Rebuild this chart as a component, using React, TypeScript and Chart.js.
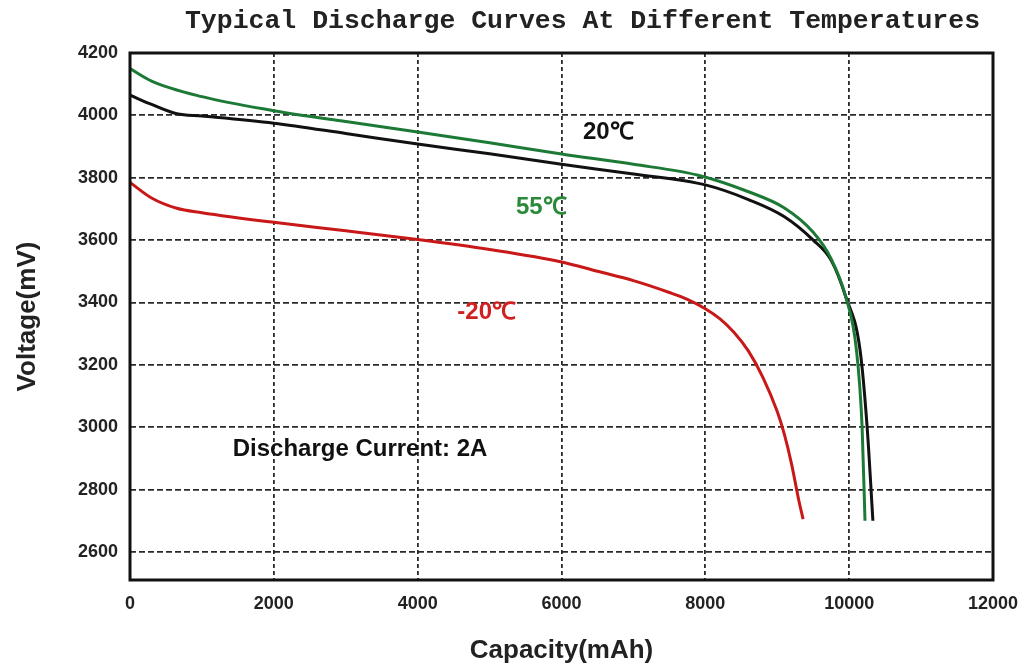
import React, { useEffect, useRef } from 'react';
import { Chart, registerables } from 'chart.js';

Chart.register(...registerables);

const TITLE = 'Typical Discharge Curves At Different Temperatures';
const X_TITLE = 'Capacity(mAh)';
const Y_TITLE = 'Voltage(mV)';

const X_TICKS = [0, 2000, 4000, 6000, 8000, 10000, 12000];
const Y_TICKS = [2600, 2800, 3000, 3200, 3400, 3600, 3800, 4000, 4200];

// 55℃ (green)
const CAP_55 = [0, 300, 1000, 2000, 3000, 4000, 5000, 6000, 7000, 7900, 8600, 9100, 9500, 9750, 9950, 10100, 10180, 10220];
const V_55 = [4150, 4110, 4060, 4015, 3980, 3947, 3912, 3876, 3843, 3808, 3755, 3703, 3625, 3540, 3420, 3250, 3000, 2700];

// 20℃ (black)
const CAP_20 = [0, 300, 650, 1000, 2000, 3000, 4000, 5000, 6000, 7000, 8000, 8600, 9100, 9500, 9750, 9950, 10150, 10250, 10330];
const V_20 = [4065, 4035, 4005, 3998, 3975, 3942, 3908, 3877, 3843, 3812, 3777, 3730, 3675, 3600, 3535, 3420, 3250, 3000, 2700];

// -20℃ (red)
const CAP_M20 = [0, 300, 650, 1000, 2000, 3000, 4000, 5000, 6000, 6500, 7000, 7500, 7750, 8000, 8200, 8400, 8600, 8800, 9000, 9100, 9200, 9300, 9360];
const V_M20 = [3785, 3735, 3702, 3688, 3657, 3630, 3602, 3570, 3530, 3500, 3470, 3432, 3410, 3380, 3348, 3304, 3244, 3160, 3050, 2976, 2881, 2765, 2705];

const SERIES_LABELS = ['55℃', '20℃', '-20℃'];
const SERIES_COLORS = ['#1d7a36', '#111111', '#c81818'];

const NOTE_TEXT = ['20℃', '55℃', '-20℃', 'Discharge Current: 2A'];
const NOTE_X = [6650, 5720, 4960, 3199];
const NOTE_Y = [3946, 3705, 3368, 2928];
const NOTE_COLORS = ['#111111', '#2a8a3a', '#d02020', '#111111'];

const SANS = '"Liberation Sans", Arial, sans-serif';

const framePlugin = {
  id: 'frame',
  afterDraw(chart: any) {
    const { ctx, chartArea: a, scales } = chart;
    ctx.save();
    ctx.strokeStyle = '#111';
    ctx.lineWidth = 3;
    ctx.strokeRect(a.left, a.top, a.right - a.left, a.bottom - a.top);

    ctx.textAlign = 'center';
    ctx.textBaseline = 'middle';
    ctx.font = 'bold 24px ' + SANS;
    NOTE_TEXT.forEach((t, i) => {
      ctx.fillStyle = NOTE_COLORS[i];
      ctx.fillText(t, scales.x.getPixelForValue(NOTE_X[i]), scales.y.getPixelForValue(NOTE_Y[i]));
    });

    ctx.font = 'bold 26.5px "Liberation Mono", "DejaVu Sans Mono", monospace';
    ctx.fillStyle = '#222';
    ctx.fillText(TITLE, (a.left + a.right) / 2 + 21, 21);
    ctx.restore();
  },
};

const toPoints = (xs: number[], ys: number[]) => xs.map((x, i) => ({ x, y: ys[i] }));

const noPad = (s: any) => {
  s.paddingLeft = 0;
  s.paddingRight = 0;
  s.paddingTop = 0;
  s.paddingBottom = 0;
};

export default function App() {
  const ref = useRef<HTMLCanvasElement | null>(null);

  useEffect(() => {
    if (!ref.current) return;
    const seriesData = [toPoints(CAP_55, V_55), toPoints(CAP_20, V_20), toPoints(CAP_M20, V_M20)];
    const chart = new Chart(ref.current, {
      type: 'line',
      data: {
        datasets: seriesData.map((d, i) => ({
          label: SERIES_LABELS[i],
          data: d,
          borderColor: SERIES_COLORS[i],
          backgroundColor: SERIES_COLORS[i],
          borderWidth: 3,
          pointRadius: 0,
          fill: false,
          cubicInterpolationMode: 'monotone' as const,
        })),
      },
      options: {
        animation: false,
        responsive: true,
        maintainAspectRatio: false,
        layout: { padding: { top: 53, right: 31, left: 0, bottom: 0 } },
        plugins: {
          legend: { display: false },
          tooltip: { enabled: false },
          title: { display: false },
        },
        scales: {
          x: {
            type: 'linear',
            min: 0,
            max: 12000,
            afterBuildTicks: (s: any) => {
              s.ticks = X_TICKS.map((v) => ({ value: v }));
            },
            afterFit: (s: any) => {
              s.height = 88;
              noPad(s);
            },
            grid: { color: '#2a2a2a', lineWidth: 1.8, drawTicks: false },
            border: { display: false, dash: [4, 3] },
            ticks: {
              padding: 13,
              color: '#222',
              font: { family: SANS, size: 18, weight: 'bold' },
              maxRotation: 0,
              autoSkip: false,
              callback: (v: any) => String(v),
            },
            title: {
              display: true,
              text: X_TITLE,
              color: '#222',
              font: { family: SANS, size: 26, weight: 'bold' },
              padding: { top: 0, bottom: 2 },
            },
          },
          y: {
            type: 'linear',
            min: 2510,
            max: 4200,
            afterBuildTicks: (s: any) => {
              s.ticks = Y_TICKS.map((v) => ({ value: v }));
            },
            afterFit: (s: any) => {
              s.width = 130;
              noPad(s);
            },
            grid: { color: '#2a2a2a', lineWidth: 1.8, drawTicks: false },
            border: { display: false, dash: [6, 3] },
            ticks: {
              padding: 12,
              color: '#222',
              font: { family: SANS, size: 18, weight: 'bold' },
              autoSkip: false,
              callback: (v: any) => String(v),
            },
            title: {
              display: true,
              text: Y_TITLE,
              color: '#222',
              font: { family: SANS, size: 26, weight: 'bold' },
              padding: { top: 12, bottom: 0 },
            },
          },
        },
      },
      plugins: [framePlugin],
    });
    return () => chart.destroy();
  }, []);

  return (
    <div style={{ position: 'fixed', left: 0, top: 0, width: 1024, height: 668, background: '#fff' }}>
      <canvas ref={ref} />
    </div>
  );
}
